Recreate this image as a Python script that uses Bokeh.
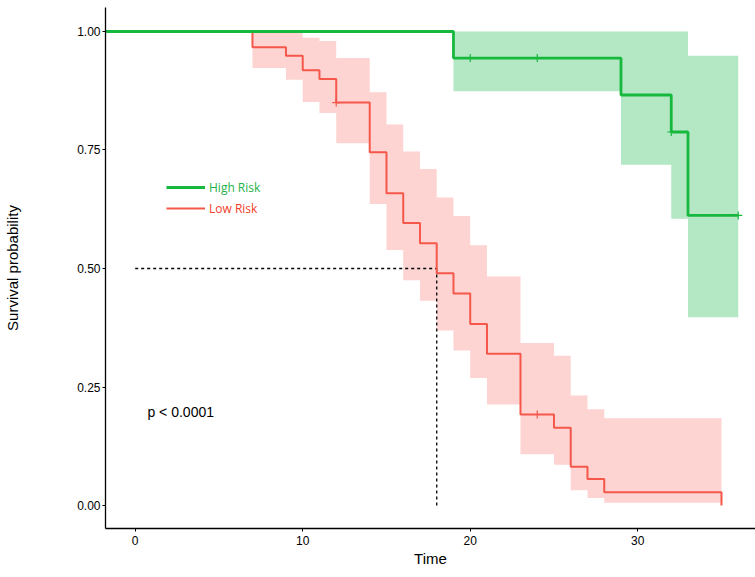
from bokeh.plotting import figure
from bokeh.models import (Range1d, FixedTicker, NumeralTickFormatter, Legend,
                          LegendItem, Label)
from bokeh.embed import file_html
from bokeh.resources import INLINE

# ---------------- data ----------------
# Low Risk group (red)
low_time  = [0, 7, 9, 10, 11, 12, 14, 15, 16, 17, 18, 19, 20, 21, 23, 25, 26, 27, 28, 35]
low_surv  = [1.0, 0.967, 0.949, 0.918, 0.900, 0.850, 0.745, 0.659, 0.596, 0.553,
             0.490, 0.447, 0.383, 0.320, 0.192, 0.164, 0.082, 0.056, 0.028, 0.0]
low_lower = [1.0, 0.923, 0.898, 0.851, 0.828, 0.764, 0.636, 0.539, 0.475, 0.432,
             0.369, 0.327, 0.269, 0.213, 0.108, 0.086, 0.032, 0.016, 0.006, 0.006]
low_upper = [1.0, 1.0, 1.0, 0.987, 0.980, 0.944, 0.872, 0.804, 0.747, 0.710,
             0.650, 0.611, 0.549, 0.483, 0.343, 0.316, 0.232, 0.203, 0.184, 0.184]
low_cens_time = [12, 24]
low_cens_surv = [0.850, 0.192]

# High Risk group (green)
high_time  = [0, 19, 29, 32, 33, 36]
high_surv  = [1.0, 0.944, 0.866, 0.788, 0.612, 0.612]
high_lower = [1.0, 0.874, 0.719, 0.605, 0.397, 0.397]
high_upper = [1.0, 1.0, 1.0, 1.0, 0.949, 0.949]
high_cens_time = [20, 24, 32, 36]
high_cens_surv = [0.944, 0.944, 0.788, 0.612]

median_time = 18
median_surv = 0.5
p_text = "p < 0.0001"
p_pos = (0.73, 0.197)

x_ticks = [0, 10, 20, 30]
y_ticks = [0.0, 0.25, 0.5, 0.75, 1.0]
x_lim = (-1.773, 37.03)
y_lim = (-0.0485, 1.0506)

# ---------------- styling ----------------
GREEN = "#16b83e"
GREEN_BAND = "#b4e8c4"
RED = "#f5574a"
RED_BAND = "#fdd4d2"
NARROW = "'Liberation Sans Narrow', 'Liberation Sans', Arial, sans-serif"
LEG_FONT = "'Open Sans', sans-serif"

p = figure(width=755, height=577,
           x_range=Range1d(*x_lim), y_range=Range1d(*y_lim),
           output_backend="svg", toolbar_location=None,
           min_border_left=105, min_border_right=0,
           min_border_top=7, min_border_bottom=49)
p.xgrid.visible = False
p.ygrid.visible = False
p.outline_line_color = None
p.background_fill_color = "white"
p.border_fill_color = "white"

# confidence bands
p.varea_step(x=low_time, y1=low_lower, y2=low_upper, step_mode="after",
             fill_color=RED_BAND, fill_alpha=1.0)
p.varea_step(x=high_time, y1=high_lower, y2=high_upper, step_mode="after",
             fill_color=GREEN_BAND, fill_alpha=1.0)

# median lines
p.line(x=[0, median_time], y=[median_surv, median_surv], line_color="black",
       line_dash="3 3", line_width=1.3)
p.line(x=[median_time, median_time], y=[median_surv, 0], line_color="black",
       line_dash="3 3", line_width=1.3)

# survival curves (the reference draws the curves from the y axis)
low_r = p.step(x=[x_lim[0]] + low_time[1:], y=low_surv, mode="after",
               line_color=RED, line_width=2)
high_r = p.step(x=[x_lim[0]] + high_time[1:], y=high_surv, mode="after",
                line_color=GREEN, line_width=2.8)

# censor marks
p.scatter(x=low_cens_time, y=low_cens_surv, marker="cross", size=8,
          line_color=RED, line_width=1.2)
p.scatter(x=high_cens_time, y=high_cens_surv, marker="cross", size=8,
          line_color=GREEN, line_width=1.2)

# p-value
p.add_layout(Label(x=p_pos[0], y=p_pos[1], text=p_text, text_font=NARROW,
                   text_font_size="14px", text_baseline="middle",
                   text_align="left", text_color="black"))

# axes
for ax in (p.xaxis, p.yaxis):
    ax.axis_line_color = "black"
    ax.axis_line_width = 1.3
    ax.major_tick_line_color = "black"
    ax.major_tick_out = 3
    ax.major_tick_in = 0
    ax.minor_tick_line_color = None
    ax.major_label_text_font = NARROW
    ax.major_label_text_font_size = "12px"
    ax.major_label_text_color = "black"
    ax.axis_label_text_font = NARROW
    ax.axis_label_text_font_style = "normal"
    ax.axis_label_text_color = "black"

p.xaxis.ticker = FixedTicker(ticks=x_ticks)
p.yaxis.ticker = FixedTicker(ticks=y_ticks)
p.yaxis.formatter = NumeralTickFormatter(format="0.00")
p.xaxis.axis_label = "Time"
p.yaxis.axis_label = "Survival probability"
p.xaxis.axis_label_text_font_size = "15px"
p.yaxis.axis_label_text_font = "'Liberation Sans', Arial, sans-serif"
p.yaxis.axis_label_text_font_size = "15px"
p.xaxis.major_label_standoff = 4
p.yaxis.major_label_standoff = 2
p.xaxis.axis_label_standoff = 2
p.yaxis.axis_label_standoff = 53

# legends (one per group so each label has its own colour)
for rend, lab, col, loc in [(high_r, "High Risk", "#1fb24c", (61, 331)),
                            (low_r, "Low Risk", "#f0402a", (61, 310))]:
    lg = Legend(items=[LegendItem(label=lab, renderers=[rend])], location=loc,
                padding=0, margin=0, spacing=0, border_line_color=None,
                background_fill_alpha=0, glyph_width=39, glyph_height=20,
                label_height=20, label_standoff=4,
                label_text_font=LEG_FONT, label_text_font_size="12px",
                label_text_color=col)
    p.add_layout(lg, "center")

open("out.html", "w").write(file_html(p, INLINE))
